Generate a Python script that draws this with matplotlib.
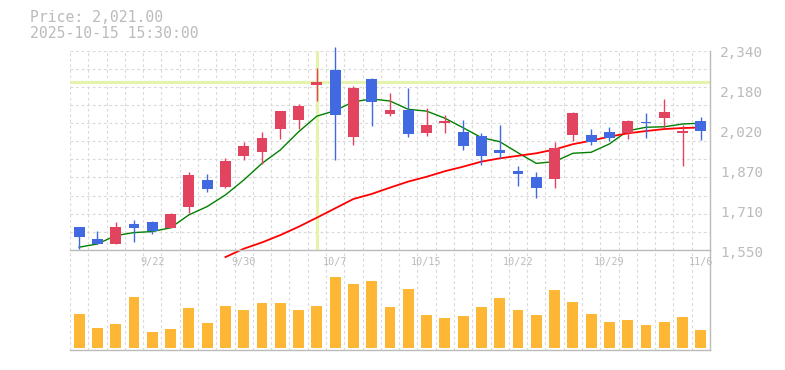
import matplotlib
matplotlib.use('Agg')
import matplotlib.pyplot as plt
import matplotlib.transforms as mtransforms
import numpy as np

# daily candles, 9/16 .. 11/6
dates = ['9/16', '9/17', '9/18', '9/19', '9/22', '9/24', '9/25', '9/26', '9/29', '9/30',
         '10/1', '10/2', '10/3', '10/6', '10/7', '10/8', '10/9', '10/10', '10/14', '10/15',
         '10/16', '10/17', '10/20', '10/21', '10/22', '10/23', '10/24', '10/27', '10/28', '10/29',
         '10/30', '10/31', '11/4', '11/5', '11/6']
opens = [1641, 1594, 1574, 1653, 1661, 1637, 1720, 1827, 1800, 1922,
         1938, 2029, 2065, 2205, 2263, 1998, 2227, 2089, 2104, 2013,
         2054, 2017, 2001, 1946, 1863, 1839, 1831, 2005, 2005, 2017,
         2013, 2057, 2073, 2013, 2061]
highs = [1641, 1625, 1661, 1669, 1665, 1697, 1859, 1851, 1914, 1978,
         2017, 2100, 2128, 2271, 2352, 2199, 2231, 2171, 2191, 2112,
         2085, 2065, 2013, 2045, 1883, 1859, 1978, 2096, 2029, 2037,
         2065, 2092, 2148, 2045, 2077]
lows = [1554, 1572, 1574, 1583, 1615, 1637, 1698, 1781, 1797, 1906,
        1892, 1990, 2029, 2140, 1906, 1966, 2041, 2081, 1998, 2002,
        2013, 1947, 1888, 1915, 1805, 1756, 1796, 1982, 1967, 1982,
        1990, 1994, 2033, 1883, 1986]
closes = [1601, 1574, 1641, 1637, 1625, 1693, 1847, 1792, 1902, 1962,
          1994, 2100, 2120, 2217, 2085, 2191, 2136, 2104, 2009, 2045,
          2060, 1963, 1922, 1934, 1852, 1796, 1954, 2092, 1978, 1994,
          2061, 2053, 2096, 2021, 2021]
ma_short = [1561, 1574, 1607, 1619, 1623, 1638, 1689, 1722, 1768, 1827,
            1893, 1946, 2018, 2080, 2102, 2137, 2148, 2140, 2107, 2100,
            2072, 2034, 1995, 1979, 1935, 1893, 1900, 1933, 1937, 1970,
            2022, 2036, 2038, 2049, 2052]
ma_long = [np.nan] * 8 + [1522, 1555, 1580, 1609, 1642, 1678, 1715, 1752, 1772, 1797,
                          1821, 1840, 1862, 1880, 1900, 1913, 1923, 1933, 1948, 1969,
                          1983, 1999, 2012, 2021, 2029, 2033, 2035]
volumes = [34, 20, 24, 51, 16, 19, 40, 25, 42, 38, 45, 45, 38, 42, 71, 64, 67, 41, 59, 33,
           30, 32, 41, 50, 38, 33, 58, 46, 34, 26, 28, 23, 26, 31, 18]

date_ticks = [4, 9, 14, 19, 24, 29, 34]
ytick_labels = ['1,550', '1,710', '1,870', '2,020', '2,180', '2,340']
ymin, ymax = 1550, 2340
cross_idx = 13
cross_price = 2214
title_lines = ['Price: 2,021.00', '2025-10-15 15:30:00']

UP = '#e2435f'
DOWN = '#4169e1'
GRAY = '#bbbbbb'
GRID = '#d9d9d9'
CROSS = '#e4f4ad'
MONO = 'DejaVu Sans Mono'

fig = plt.figure(figsize=(7.85, 3.70), dpi=100)
axv = fig.add_axes([70 / 785, 20 / 370, 640 / 785, 100 / 370])
ax = fig.add_axes([70 / 785, 120 / 370, 640 / 785, 199.5 / 370])
ax.patch.set_alpha(0)

n = len(closes)
x = np.arange(n)

for a in (ax, axv):
    a.set_xlim(-0.5, n - 0.5)
    a.set_xticks([])
    a.set_yticks([])
    for s in ('top', 'left'):
        a.spines[s].set_visible(False)
    for s in ('right', 'bottom'):
        a.spines[s].set_color(GRAY)
        a.spines[s].set_linewidth(1.0)
    # vertical grid between candles
    for k in range(n):
        a.axvline(k - 0.5, color=GRID, lw=0.8, ls=(0, (2.5, 2.5)), zorder=0)

ax.set_ylim(ymin, ymax)
for k in range(12):
    ax.axhline(ymin + k * (ymax - ymin) / 11, color=GRID, lw=0.8, ls=(0, (2.5, 2.5)), zorder=0)

# crosshair
ax.axhline(cross_price, color=CROSS, lw=2.3, zorder=1)
ax.axvline(cross_idx, ymin=0.005, ymax=0.995, color=CROSS, lw=2.3, zorder=1)

# moving averages
ax.plot(x, ma_short, color='#008000', lw=1.0, zorder=2)
ax.plot(x, ma_long, color='#ff0000', lw=1.3, zorder=2, clip_on=False)

# candles
for i in range(n):
    o, h, l, c = opens[i], highs[i], lows[i], closes[i]
    col = UP if c >= o else DOWN
    ax.vlines(i, l, h, color=col, lw=1.0, zorder=3, clip_on=False)
    bottom = min(o, c)
    height = max(abs(c - o), 4)
    ax.bar(i, height, bottom=bottom, width=0.6, color=col, zorder=4)

# price labels on the right
trans = mtransforms.blended_transform_factory(ax.transAxes, ax.transData)
trans = mtransforms.offset_copy(trans, fig=fig, x=10, y=-2.7, units='dots')
for k, lab in enumerate(ytick_labels):
    ax.text(1, ymin + k * (ymax - ymin) / 5, lab, transform=trans, ha='left', va='center',
            color=GRAY, fontsize=10.4, family=MONO)

# volume
axv.set_ylim(-2, 98)
axv.bar(x, volumes, width=0.6, color='#fdb735', zorder=3)
vtrans = mtransforms.blended_transform_factory(axv.transData, axv.transAxes)
for i in date_ticks:
    axv.text(i, 0.88, dates[i], transform=vtrans, ha='center', va='center',
             color=GRAY, fontsize=7.3, family=MONO)

fig.text(30 / 785, 1 - 18 / 370, title_lines[0], ha='left', va='center',
         color=GRAY, fontsize=10.6, family=MONO)
fig.text(30 / 785, 1 - 33 / 370, title_lines[1], ha='left', va='center',
         color=GRAY, fontsize=10.6, family=MONO)

fig.savefig('out.png', dpi=100)
